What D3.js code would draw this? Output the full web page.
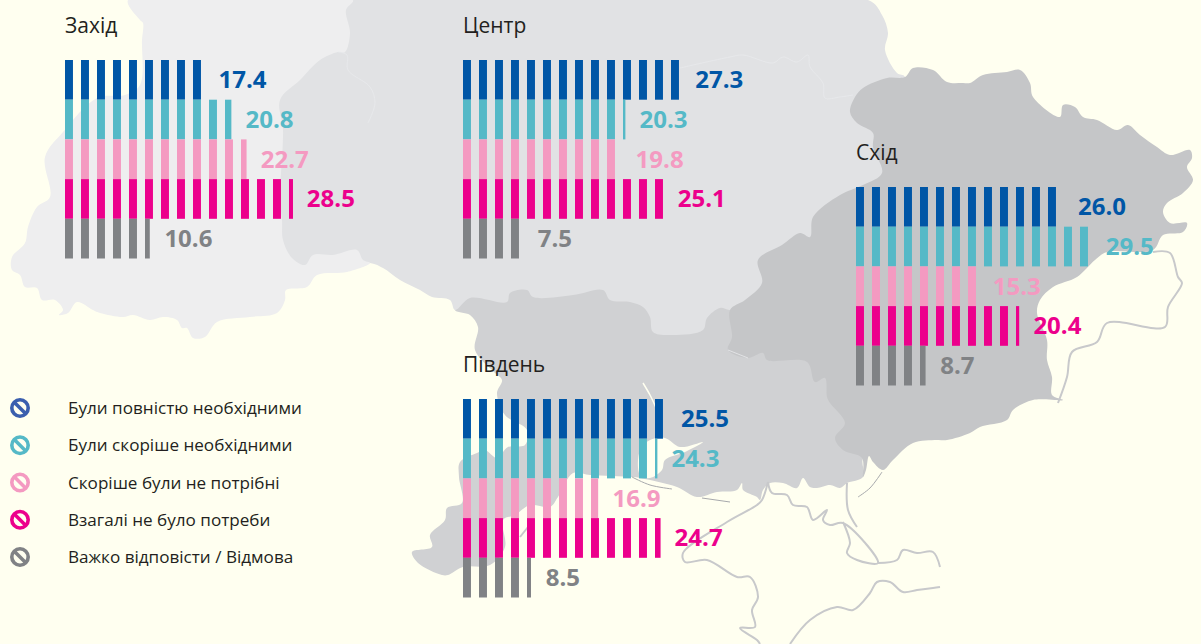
<!DOCTYPE html>
<html>
<head>
<meta charset="utf-8">
<script src="https://cdn.jsdelivr.net/npm/d3@7"></script>
<style>
  html, body { margin: 0; padding: 0; background: #fffff0; overflow: hidden; }
  svg { display: block; }
  text { font-family: "Open Sans", sans-serif; }
</style>
</head>
<body>
<script>
const width = 1201, height = 644;

// values
const categories = ["Були повністю необхідними", "Були скоріше необхідними", "Скоріше були не потрібні", "Взагалі не було потреби", "Важко відповісти / Відмова"];
const barColors = ["#0056a6", "#55b9c7", "#f49ac1", "#ec008c", "#808285"];
const iconColors = ["#3b5fae", "#55b9c7", "#f49ac1", "#ec008c", "#808285"];

const westValues = [17.4, 20.8, 22.7, 28.5, 10.6];
const centerValues = [27.3, 20.3, 19.8, 25.1, 7.5];
const eastValues = [26.0, 29.5, 15.3, 20.4, 8.7];
const southValues = [25.5, 24.3, 16.9, 24.7, 8.5];

const regions = [
  {name: "Захід", values: westValues, x0: 65, y0: 60},
  {name: "Центр", values: centerValues, x0: 463, y0: 60},
  {name: "Схід", values: eastValues, x0: 856, y0: 187},
  {name: "Південь", values: southValues, x0: 463, y0: 399}
];

// background map, traced by hand
const mapWest = [[128,0],[353,0],[346,10],[350,33],[345,52],[338,52],[320,60],[300,80],[280,100],[283,130],[280,200],[282,220],[283,240],[292,258],[305,265],[313,255],[333,255],[357,250],[363,260],[370,263],[347,272],[317,275],[307,287],[286,290],[285,300],[277,313],[250,317],[217,322],[205,337],[193,338],[187,328],[182,328],[177,320],[163,317],[150,320],[133,315],[123,317],[100,313],[93,310],[77,302],[68,313],[59,315],[63,310],[55,300],[42,300],[37,288],[25,287],[20,275],[12,270],[12,257],[25,243],[28,227],[37,207],[50,197],[45,157],[63,132],[97,98],[125,95],[140,85],[142,40],[143,23],[140,20]];
const mapCenter = [[340,0],[868,0],[882,15],[888,33],[885,50],[897,73],[905,77],[880,190],[760,300],[730,310],[720,308],[707,318],[703,330],[673,335],[653,332],[650,317],[643,307],[630,302],[610,300],[603,290],[573,295],[533,297],[527,290],[510,293],[507,302],[470,298],[455,310],[450,300],[432,297],[420,290],[400,280],[383,268],[370,263],[270,260],[270,90]];
const mapSouth = [[455,310],[500,280],[760,280],[790,340],[850,400],[880,440],[863,458],[863,477],[847,483],[840,488],[830,485],[817,488],[810,487],[803,478],[797,488],[783,483],[770,483],[763,490],[760,500],[757,497],[743,490],[742,483],[737,490],[717,492],[697,497],[677,487],[640,478],[632,477],[590,475],[573,473],[558,497],[550,507],[530,505],[515,515],[503,520],[505,547],[490,565],[463,567],[448,575],[442,575],[418,563],[412,552],[432,547],[430,535],[445,520],[447,508],[462,503],[459,477],[460,462],[477,453],[485,450],[497,458],[508,447],[525,445],[527,430],[505,415],[497,393],[502,380],[495,373],[475,350],[478,327],[470,315]];
const mapEast = [[905,77],[913,68],[933,70],[947,82],[963,83],[970,83],[983,75],[1007,72],[1020,70],[1030,83],[1033,97],[1060,117],[1063,105],[1075,107],[1083,117],[1097,120],[1117,130],[1128,125],[1140,135],[1157,147],[1170,155],[1190,150],[1192,158],[1187,167],[1193,180],[1183,193],[1167,203],[1163,212],[1170,223],[1187,223],[1183,232],[1163,235],[1153,250],[1107,252],[1095,260],[1077,277],[1053,287],[1040,300],[1037,313],[1047,340],[1047,360],[1052,377],[1052,395],[1063,400],[1033,400],[1013,410],[1007,420],[980,427],[970,433],[947,440],[937,440],[913,443],[893,460],[883,470],[873,462],[869,456],[866,470],[863,477],[862,458],[843,450],[835,438],[845,423],[830,403],[827,397],[825,378],[815,382],[807,362],[767,360],[763,353],[748,358],[728,350],[732,337],[730,310],[745,300],[762,283],[758,260],[782,245],[800,233],[810,237],[813,217],[840,195],[863,185],[882,173],[873,147],[873,133],[857,123],[850,112],[855,97],[863,88],[887,78]];
const mapEstuary = [[650,440],[665,438],[680,447],[703,442],[685,452],[665,460],[662,470],[650,478],[640,475],[640,450]];
const mapOutlines = [
  [[1153,252],[1170,253],[1178,277],[1182,283],[1168,307],[1165,327],[1107,323],[1097,342],[1072,352],[1067,377],[1058,403]],
  [[768,482],[772,493],[787,495],[793,505],[807,507],[813,520],[827,510],[823,520],[830,525],[843,523],[878,563],[857,560],[847,553],[850,543],[843,522]],
  [[768,482],[762,500],[757,505],[727,522],[683,553],[685,562],[707,560],[737,577],[750,577],[758,597],[752,610],[755,627],[740,628],[757,640],[760,644]],
  [[790,644],[810,620],[837,607],[853,610],[870,593],[877,582],[890,582],[903,592],[917,590],[933,588],[940,587]],
  [[878,563],[897,560],[903,550],[917,553],[933,552],[940,567]],
  [[847,483],[848,510],[857,527]],
  [[520,537],[528,527]]
];
const mapDarkLines = [[[632,477],[650,485],[672,489]], [[702,498],[730,502]], [[858,497],[870,488],[882,472]]];
const mapBorders = [
  [[338,52],[347,55],[348,70],[370,87],[375,103],[368,123]],
  [[680,68],[730,57],[743,55],[773,63],[783,57],[797,62],[808,55],[810,67],[823,83],[825,98],[840,97],[853,95]],
  [[728,350],[748,358]]
];
const mapRivers = [[[643,383],[650,395],[657,410]]];

const svg = d3.select("body").append("svg")
    .attr("width", width)
    .attr("height", height)
    .attr("viewBox", [0, 0, width, height]);

const closed = d3.line().curve(d3.curveCatmullRomClosed.alpha(0.5));
const open = d3.line().curve(d3.curveCatmullRom.alpha(0.5));

const map = svg.append("g");
map.append("path").attr("d", closed(mapSouth)).attr("fill", "#d0d1d3");
map.append("path").attr("d", closed(mapCenter)).attr("fill", "#e1e2e4");
map.append("path").attr("d", closed(mapWest)).attr("fill", "#eeeeef");
map.append("path").attr("d", closed(mapEast)).attr("fill", "#c5c6c8");
map.append("path").attr("d", closed(mapEstuary)).attr("fill", "#fffff0");

map.selectAll(".outline").data(mapOutlines).join("path")
    .attr("class", "outline")
    .attr("d", open)
    .attr("fill", "none")
    .attr("stroke", "#c8c9cb")
    .attr("stroke-width", 2);
map.selectAll(".dark").data(mapDarkLines).join("path")
    .attr("class", "dark")
    .attr("d", open)
    .attr("fill", "none")
    .attr("stroke", "#a7a9ac")
    .attr("stroke-width", 1);
map.selectAll(".border").data(mapBorders).join("path")
    .attr("class", "border")
    .attr("d", open)
    .attr("fill", "none")
    .attr("stroke", "#e9eaec")
    .attr("stroke-width", 0.8);
map.selectAll(".river").data(mapRivers).join("path")
    .attr("class", "river")
    .attr("d", open)
    .attr("fill", "none")
    .attr("stroke", "#fffff0")
    .attr("stroke-width", 1.5);

// one stripe is 1 unit wide, every 2 units; the last one is cut at the value
const barLength = d3.scaleLinear().domain([0, 1]).range([0, 7.96]);

regions.forEach(region => {
  const y = d3.scaleBand().domain(categories).range([region.y0, region.y0 + 198.5]);
  const x = v => region.x0 + barLength(v);
  const g = svg.append("g");

  g.append("text")
      .attr("x", region.x0)
      .attr("y", region.y0 - 27)
      .attr("font-size", 21)
      .attr("fill", "#231f20")
      .text(region.name);

  const rows = g.selectAll(".row")
    .data(region.values.map((value, i) => ({value, category: categories[i], color: barColors[i]})))
    .join("g")
      .attr("class", "row");

  rows.selectAll("rect")
    .data(d => d3.range(0, d.value, 2).map(start => ({start, end: Math.min(start + 1, d.value), d})))
    .join("rect")
      .attr("x", s => x(s.start * 8 / 7.96))
      .attr("width", s => barLength(s.end) - barLength(s.start))
      .attr("y", s => y(s.d.category))
      .attr("height", y.bandwidth())
      .attr("fill", s => s.d.color);

  rows.append("text")
      .attr("x", d => x(d.value) + 15)
      .attr("y", d => y(d.category) + y.bandwidth() / 2 + 8.5)
      .attr("font-size", 24)
      .attr("font-weight", 700)
      .attr("fill", d => d.color)
      .text(d => d3.format(".1f")(d.value));
});

// legend
const legendY = d3.scalePoint().domain(categories).range([408, 557]);
const legend = svg.append("g").selectAll("g")
  .data(categories)
  .join("g")
    .attr("transform", d => `translate(20,${legendY(d)})`);

legend.append("circle")
    .attr("r", 8.2)
    .attr("fill", "none")
    .attr("stroke", (d, i) => iconColors[i])
    .attr("stroke-width", 3.6);
legend.append("line")
    .attr("x1", -6).attr("y1", -6).attr("x2", 6).attr("y2", 6)
    .attr("stroke", (d, i) => iconColors[i])
    .attr("stroke-width", 3.6);
legend.append("text")
    .attr("x", 48)
    .attr("y", 6)
    .attr("font-size", 17.1)
    .attr("fill", "#231f20")
    .text(d => d);
</script>
</body>
</html>
